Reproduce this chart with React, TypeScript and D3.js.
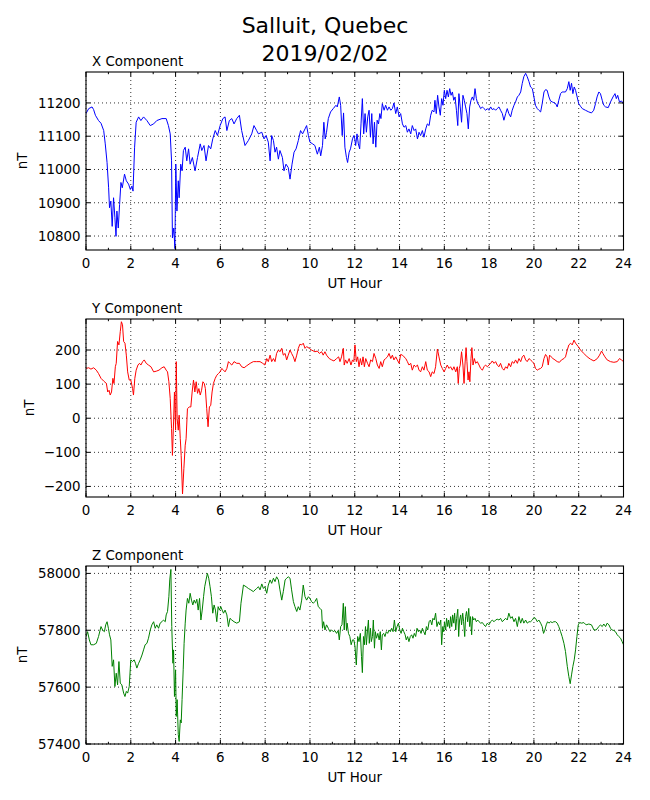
import React from "react";
import * as d3 from "d3";

// ---- Data (hour, nT) ----
const xComponent: [number, number][] = [
  [0, 11168], [0.12, 11183], [0.27, 11188], [0.34, 11180], [0.42, 11163], [0.56, 11147], [0.67, 11139],
  [0.79, 11117], [0.86, 11077], [0.94, 11021], [1.01, 10945], [1.05, 10885], [1.11, 10905], [1.17, 10829],
  [1.23, 10915], [1.29, 10855], [1.34, 10799], [1.38, 10875], [1.44, 10824], [1.5, 10895], [1.56, 10961],
  [1.62, 10945], [1.72, 10986], [1.8, 10966], [1.9, 10956], [1.98, 10940], [2.05, 10950], [2.1, 10935],
  [2.17, 11067], [2.24, 11142], [2.35, 11158], [2.45, 11147], [2.57, 11158], [2.72, 11147], [2.87, 11132],
  [3.02, 11137], [3.16, 11147], [3.39, 11153], [3.58, 11153], [3.68, 11132], [3.76, 11107], [3.82, 11026],
  [3.86, 10794], [3.92, 10824], [3.97, 10762], [4.01, 11016], [4.06, 10875], [4.12, 10966], [4.16, 10915],
  [4.23, 11016], [4.29, 10996], [4.35, 11057], [4.43, 11067], [4.5, 11026], [4.58, 11062], [4.65, 11016],
  [4.75, 11036], [4.87, 10996], [4.98, 11036], [5.1, 11077], [5.17, 11057], [5.27, 11072], [5.36, 11026],
  [5.47, 11072], [5.57, 11062], [5.66, 11092], [5.77, 11117], [5.87, 11102], [5.99, 11132], [6.11, 11153],
  [6.21, 11158], [6.29, 11117], [6.4, 11147], [6.51, 11153], [6.61, 11137], [6.73, 11153], [6.85, 11163],
  [6.95, 11117], [7.1, 11072], [7.25, 11087], [7.4, 11107], [7.5, 11132], [7.62, 11117], [7.7, 11107],
  [7.85, 11112], [7.95, 11092], [8.04, 11102], [8.14, 11082], [8.22, 11026], [8.29, 11102], [8.37, 11087],
  [8.44, 11052], [8.51, 11067], [8.59, 11031], [8.66, 11057], [8.77, 11036], [8.84, 10996], [8.93, 11016],
  [9.03, 11006], [9.11, 10971], [9.2, 11016], [9.29, 11052], [9.38, 11062], [9.48, 11087], [9.58, 11117],
  [9.67, 11107], [9.78, 11122], [9.85, 11132], [9.93, 11102], [10.0, 11082], [10.12, 11077], [10.22, 11072],
  [10.33, 11046], [10.42, 11067], [10.48, 11041], [10.56, 11072], [10.62, 11142], [10.68, 11092], [10.74, 11112],
  [10.82, 11153], [10.92, 11173], [11.04, 11183], [11.16, 11193], [11.22, 11188], [11.31, 11218], [11.37, 11193],
  [11.44, 11102], [11.5, 11170], [11.56, 11067], [11.63, 11036], [11.68, 11021], [11.75, 11052], [11.81, 11062],
  [11.9, 11092], [11.96, 11102], [12.0, 11092],
  [12.04, 11072], [12.1, 11107], [12.16, 11077], [12.22, 11062], [12.28, 11137], [12.34, 11213], [12.4, 11107],
  [12.46, 11168], [12.52, 11112], [12.58, 11158], [12.64, 11178], [12.7, 11097], [12.76, 11168], [12.82, 11077],
  [12.88, 11142], [12.94, 11067], [13.0, 11148], [13.06, 11137], [13.12, 11168], [13.17, 11153], [13.23, 11198],
  [13.31, 11178], [13.38, 11193], [13.46, 11178], [13.53, 11188], [13.61, 11178], [13.68, 11183], [13.75, 11200],
  [13.83, 11168], [13.9, 11188], [13.98, 11158], [14.05, 11168], [14.13, 11137], [14.2, 11127], [14.28, 11132],
  [14.35, 11112], [14.42, 11122], [14.5, 11107], [14.57, 11132], [14.65, 11117], [14.72, 11122], [14.8, 11092],
  [14.87, 11112], [14.94, 11102], [15.02, 11117], [15.09, 11097], [15.17, 11122], [15.24, 11137], [15.32, 11132],
  [15.39, 11163], [15.46, 11178], [15.54, 11173], [15.58, 11208], [15.64, 11168], [15.7, 11223], [15.76, 11188],
  [15.82, 11163], [15.88, 11213], [15.94, 11193], [16.0, 11238], [16.06, 11213], [16.12, 11238], [16.18, 11218],
  [16.24, 11243], [16.3, 11223], [16.36, 11233], [16.42, 11208], [16.48, 11218], [16.54, 11178], [16.6, 11132],
  [16.65, 11228], [16.71, 11188], [16.77, 11142], [16.83, 11223], [16.89, 11208], [16.95, 11188], [17.01, 11168],
  [17.07, 11122], [17.13, 11188], [17.19, 11208], [17.25, 11218], [17.31, 11208], [17.37, 11243], [17.43, 11213],
  [17.49, 11198], [17.55, 11193], [17.62, 11183], [17.7, 11188], [17.77, 11183], [17.85, 11178], [17.92, 11183],
  [17.99, 11178], [18.07, 11188], [18.14, 11180], [18.22, 11183], [18.29, 11178], [18.36, 11183], [18.44, 11188],
  [18.51, 11178], [18.59, 11168], [18.66, 11148], [18.74, 11168], [18.81, 11183], [18.88, 11168], [18.96, 11158],
  [19.03, 11178], [19.11, 11193], [19.18, 11203], [19.26, 11218], [19.33, 11223], [19.41, 11233], [19.48, 11259],
  [19.55, 11279], [19.63, 11289], [19.7, 11279], [19.78, 11264], [19.85, 11248], [19.93, 11243], [20.0, 11218],
  [20.07, 11193], [20.15, 11183], [20.22, 11178], [20.3, 11173], [20.37, 11198], [20.45, 11233], [20.52, 11240],
  [20.59, 11238], [20.67, 11218], [20.74, 11206], [20.82, 11203], [20.89, 11201], [20.97, 11198], [21.04, 11188],
  [21.11, 11208], [21.19, 11228], [21.26, 11233], [21.34, 11233], [21.41, 11233], [21.49, 11243], [21.56, 11264],
  [21.62, 11238], [21.68, 11259], [21.74, 11228], [21.8, 11248], [21.86, 11238], [21.93, 11218], [22.0, 11198],
  [22.08, 11190], [22.16, 11183], [22.3, 11178], [22.45, 11173], [22.57, 11170], [22.67, 11178], [22.75, 11198],
  [22.82, 11218], [22.9, 11233], [22.97, 11228], [23.05, 11208], [23.12, 11193], [23.2, 11188], [23.32, 11186],
  [23.42, 11203], [23.53, 11218], [23.62, 11228], [23.68, 11213], [23.74, 11223], [23.82, 11203], [23.91, 11206],
  [24.0, 11198],
];

const yComponent: [number, number][] = [
  [0, 146], [0.12, 148], [0.22, 144], [0.34, 148], [0.46, 141], [0.56, 131], [0.67, 117], [0.79, 109],
  [0.91, 102], [0.97, 77], [1.03, 82], [1.08, 68], [1.14, 77], [1.2, 117], [1.25, 102], [1.31, 151],
  [1.35, 161], [1.41, 225], [1.47, 215], [1.53, 254], [1.58, 283], [1.63, 274], [1.68, 225], [1.74, 220],
  [1.8, 185], [1.86, 136], [1.93, 112], [2.0, 112], [2.08, 87], [2.12, 68], [2.18, 117], [2.24, 141],
  [2.32, 156], [2.39, 161], [2.45, 156], [2.53, 166], [2.6, 171], [2.69, 161], [2.79, 156], [2.9, 151],
  [3.02, 136], [3.14, 138], [3.26, 141], [3.39, 148], [3.49, 151], [3.58, 141], [3.64, 136], [3.7, 107],
  [3.76, 58], [3.82, -30], [3.86, -109], [3.91, -11], [3.95, 77], [4.0, -35], [4.03, 166], [4.07, -1],
  [4.12, -35], [4.16, 9], [4.21, -60], [4.25, -109], [4.31, -222], [4.37, -148], [4.43, -79], [4.47, -60],
  [4.53, 28], [4.61, 33], [4.68, 33], [4.74, 77], [4.8, 112], [4.86, 77], [4.92, 107], [4.98, 73],
  [5.04, 87], [5.1, 68], [5.16, 82], [5.22, 107], [5.28, 102], [5.33, 87], [5.39, 28], [5.45, -25],
  [5.51, 33], [5.57, 38], [5.63, 77], [5.69, 102], [5.77, 117], [5.84, 126], [5.91, 131], [5.99, 136],
  [6.06, 146], [6.14, 141], [6.21, 136], [6.29, 146], [6.36, 166], [6.43, 161], [6.51, 156], [6.61, 166],
  [6.73, 161], [6.85, 161], [6.95, 151], [7.06, 148], [7.18, 154], [7.33, 161], [7.47, 166], [7.62, 166],
  [7.77, 166], [7.89, 161], [7.99, 156], [8.07, 175], [8.14, 166], [8.22, 185], [8.29, 166], [8.37, 175],
  [8.44, 166], [8.51, 190], [8.59, 200], [8.66, 195], [8.74, 205], [8.81, 185], [8.89, 190], [8.96, 171],
  [9.03, 185], [9.11, 200], [9.18, 190], [9.26, 180], [9.33, 166], [9.41, 185], [9.48, 205], [9.55, 217],
  [9.63, 215], [9.7, 220], [9.78, 205], [9.85, 210], [9.97, 205], [10.07, 200], [10.22, 195], [10.33, 197],
  [10.42, 190], [10.52, 195], [10.59, 185], [10.67, 195], [10.74, 185], [10.86, 175], [10.97, 171], [11.07, 168],
  [11.19, 175], [11.28, 180], [11.34, 166], [11.41, 180], [11.49, 205], [11.53, 156], [11.59, 171], [11.66, 161],
  [11.75, 175], [11.83, 156], [11.9, 171], [11.96, 166],
  [12.01, 215], [12.07, 166], [12.13, 180], [12.19, 151], [12.25, 175], [12.31, 156], [12.37, 180], [12.43, 151],
  [12.49, 175], [12.57, 161], [12.64, 151], [12.71, 171], [12.79, 166], [12.86, 190], [12.94, 175], [13.01, 156],
  [13.09, 146], [13.16, 166], [13.23, 151], [13.31, 171], [13.38, 175], [13.46, 180], [13.53, 190], [13.61, 175],
  [13.68, 185], [13.75, 171], [13.83, 180], [13.9, 171], [13.98, 161], [14.05, 187], [14.13, 185], [14.2, 180],
  [14.28, 175], [14.35, 166], [14.42, 156], [14.5, 161], [14.57, 141], [14.65, 156], [14.72, 151], [14.8, 156],
  [14.87, 141], [14.94, 136], [15.02, 151], [15.09, 141], [15.17, 166], [15.24, 141], [15.32, 136], [15.39, 122],
  [15.46, 136], [15.54, 131], [15.61, 151], [15.69, 203], [15.76, 180], [15.84, 156], [15.91, 146], [15.99, 136],
  [16.06, 146], [16.13, 156], [16.21, 146], [16.28, 151], [16.36, 141], [16.43, 151], [16.51, 136], [16.58, 151],
  [16.62, 102], [16.67, 146], [16.71, 156], [16.77, 195], [16.83, 156], [16.88, 102], [16.92, 156], [16.97, 207],
  [17.01, 166], [17.06, 112], [17.1, 136], [17.14, 107], [17.19, 175], [17.23, 207], [17.28, 156], [17.34, 175],
  [17.4, 161], [17.47, 166], [17.55, 156], [17.62, 146], [17.7, 141], [17.77, 151], [17.84, 156], [17.92, 151],
  [17.99, 156], [18.07, 161], [18.14, 168], [18.22, 161], [18.29, 166], [18.36, 156], [18.44, 151], [18.51, 161],
  [18.59, 146], [18.66, 141], [18.74, 151], [18.81, 146], [18.88, 161], [18.96, 151], [19.03, 166], [19.11, 161],
  [19.18, 171], [19.26, 161], [19.33, 175], [19.41, 166], [19.48, 180], [19.55, 185], [19.63, 171], [19.7, 166],
  [19.78, 175], [19.85, 171], [19.93, 166], [20.0, 161], [20.07, 146], [20.15, 141], [20.22, 144], [20.3, 146],
  [20.37, 151], [20.45, 175], [20.52, 187], [20.59, 180], [20.64, 156], [20.7, 185], [20.77, 180], [20.85, 175],
  [20.94, 171], [21.04, 166], [21.14, 164], [21.23, 171], [21.34, 175], [21.41, 180], [21.49, 200], [21.56, 215],
  [21.64, 220], [21.71, 215], [21.79, 229], [21.86, 220], [21.98, 210], [22.08, 200], [22.23, 190], [22.38, 180],
  [22.53, 173], [22.68, 168], [22.83, 175], [22.93, 185], [23.02, 197], [23.08, 190], [23.17, 180], [23.27, 171],
  [23.42, 166], [23.57, 164], [23.72, 166], [23.82, 175], [23.91, 171], [24.0, 166],
];

const zComponent: [number, number][] = [
  [0, 57778], [0.07, 57795], [0.15, 57766], [0.22, 57749], [0.34, 57749], [0.46, 57754], [0.56, 57778],
  [0.67, 57813], [0.74, 57801], [0.82, 57795], [0.88, 57819], [0.94, 57830], [1.0, 57807], [1.05, 57784],
  [1.11, 57766], [1.17, 57673], [1.23, 57696], [1.29, 57602], [1.35, 57649], [1.41, 57608], [1.47, 57690],
  [1.53, 57614], [1.6, 57608], [1.68, 57579], [1.74, 57567], [1.8, 57585], [1.86, 57579], [1.93, 57602],
  [2.0, 57696], [2.08, 57690], [2.15, 57696], [2.21, 57684], [2.27, 57667], [2.35, 57684], [2.42, 57696],
  [2.5, 57713], [2.57, 57731], [2.64, 57749], [2.72, 57754], [2.79, 57772], [2.87, 57801], [2.94, 57819],
  [3.02, 57830], [3.09, 57807], [3.16, 57819], [3.24, 57807], [3.31, 57825], [3.39, 57830], [3.46, 57836],
  [3.54, 57830], [3.58, 57854], [3.64, 57866], [3.7, 57918], [3.74, 57977], [3.79, 58014], [3.83, 57813],
  [3.88, 57684], [3.91, 57731], [3.95, 57567], [4.0, 57661], [4.03, 57497], [4.07, 57556], [4.12, 57433],
  [4.16, 57409], [4.21, 57485], [4.25, 57474], [4.29, 57556], [4.34, 57661], [4.38, 57754], [4.43, 57825],
  [4.47, 57871], [4.53, 57912], [4.59, 57895], [4.65, 57930], [4.71, 57906], [4.77, 57889], [4.83, 57906],
  [4.89, 57895], [4.95, 57909], [5.01, 57871], [5.07, 57912], [5.13, 57836], [5.19, 57871], [5.25, 57918],
  [5.3, 57953], [5.36, 57977], [5.42, 58000], [5.48, 57983], [5.54, 57953], [5.6, 57918], [5.66, 57860],
  [5.72, 57889], [5.78, 57871], [5.84, 57830], [5.9, 57883], [5.96, 57871], [6.02, 57883], [6.08, 57871],
  [6.14, 57860], [6.21, 57871], [6.29, 57854], [6.36, 57813], [6.43, 57842], [6.51, 57836], [6.61, 57830],
  [6.73, 57825], [6.85, 57830], [6.92, 57895], [7.03, 57959], [7.15, 57953], [7.25, 57947], [7.36, 57942],
  [7.47, 57936], [7.55, 57942], [7.62, 57947], [7.7, 57953], [7.77, 57942], [7.85, 57963], [7.92, 57947],
  [7.99, 57953], [8.07, 57930], [8.14, 57959], [8.22, 57977], [8.29, 57965], [8.37, 57983], [8.44, 57971],
  [8.51, 57988], [8.59, 57977], [8.66, 57942], [8.74, 57906], [8.81, 57936], [8.89, 57977], [8.96, 57983],
  [9.03, 57988], [9.11, 57983], [9.18, 57942], [9.26, 57901], [9.33, 57883], [9.41, 57866], [9.48, 57883],
  [9.55, 57871], [9.63, 57906], [9.7, 57959], [9.78, 57918], [9.85, 57906], [9.93, 57918], [10.0, 57912],
  [10.07, 57901], [10.15, 57895], [10.22, 57901], [10.3, 57912], [10.37, 57883], [10.45, 57877], [10.52, 57871],
  [10.56, 57807], [10.61, 57830], [10.67, 57801], [10.74, 57819], [10.82, 57807], [10.89, 57795], [10.97, 57801],
  [11.04, 57795], [11.11, 57799], [11.19, 57789], [11.26, 57799], [11.31, 57766], [11.37, 57813], [11.43, 57819],
  [11.49, 57895], [11.53, 57801], [11.58, 57883], [11.63, 57801], [11.66, 57825], [11.72, 57789], [11.78, 57778],
  [11.84, 57749], [11.9, 57766],
  [11.96, 57766], [12.01, 57743], [12.07, 57678], [12.13, 57778], [12.19, 57760], [12.25, 57789], [12.3, 57708],
  [12.34, 57651], [12.39, 57778], [12.43, 57749], [12.48, 57813], [12.52, 57749], [12.57, 57801], [12.61, 57836],
  [12.65, 57754], [12.7, 57807], [12.74, 57760], [12.79, 57778], [12.83, 57836], [12.88, 57737], [12.92, 57795],
  [12.97, 57772], [13.03, 57789], [13.09, 57766], [13.14, 57795], [13.19, 57731], [13.23, 57784], [13.29, 57789],
  [13.35, 57778], [13.41, 57795], [13.47, 57789], [13.53, 57801], [13.59, 57795], [13.65, 57807], [13.71, 57795],
  [13.77, 57836], [13.83, 57795], [13.89, 57813], [13.95, 57825], [14.01, 57801], [14.07, 57789], [14.13, 57807],
  [14.19, 57795], [14.25, 57784], [14.3, 57766], [14.36, 57778], [14.42, 57760], [14.48, 57778], [14.54, 57784],
  [14.6, 57772], [14.66, 57789], [14.72, 57778], [14.78, 57807], [14.84, 57795], [14.9, 57801], [14.96, 57789],
  [15.02, 57807], [15.08, 57795], [15.14, 57784], [15.2, 57813], [15.26, 57801], [15.32, 57830], [15.38, 57836],
  [15.44, 57819], [15.49, 57842], [15.55, 57836], [15.61, 57860], [15.67, 57813], [15.73, 57830], [15.79, 57819],
  [15.84, 57836], [15.88, 57749], [15.93, 57813], [15.97, 57795], [16.01, 57830], [16.06, 57801], [16.1, 57842],
  [16.15, 57813], [16.19, 57836], [16.24, 57807], [16.28, 57848], [16.33, 57813], [16.37, 57854], [16.42, 57825],
  [16.46, 57860], [16.51, 57801], [16.55, 57842], [16.6, 57874], [16.64, 57778], [16.68, 57836], [16.73, 57854],
  [16.77, 57819], [16.82, 57860], [16.86, 57830], [16.91, 57778], [16.95, 57848], [16.99, 57866], [17.04, 57830],
  [17.09, 57877], [17.13, 57813], [17.17, 57848], [17.22, 57784], [17.26, 57848], [17.31, 57836], [17.37, 57842],
  [17.43, 57830], [17.49, 57836], [17.55, 57830], [17.62, 57825], [17.7, 57827], [17.77, 57819], [17.84, 57813],
  [17.92, 57825], [17.99, 57819], [18.07, 57830], [18.14, 57836], [18.22, 57830], [18.29, 57836], [18.36, 57839],
  [18.44, 57836], [18.51, 57842], [18.59, 57830], [18.66, 57836], [18.74, 57842], [18.81, 57836], [18.88, 57860],
  [18.96, 57842], [19.03, 57848], [19.11, 57830], [19.18, 57842], [19.26, 57813], [19.33, 57848], [19.41, 57825],
  [19.48, 57842], [19.55, 57825], [19.63, 57836], [19.7, 57825], [19.78, 57830], [19.85, 57830], [19.93, 57836],
  [20.0, 57845], [20.07, 57842], [20.15, 57830], [20.22, 57836], [20.3, 57825], [20.37, 57813], [20.43, 57789],
  [20.49, 57801], [20.55, 57819], [20.61, 57830], [20.67, 57825], [20.74, 57830], [20.82, 57827], [20.89, 57830],
  [20.97, 57830], [21.04, 57825], [21.11, 57813], [21.19, 57795], [21.26, 57778], [21.34, 57754], [21.41, 57725],
  [21.49, 57673], [21.56, 57637], [21.62, 57612], [21.68, 57643], [21.74, 57673], [21.8, 57696], [21.86, 57731],
  [21.92, 57778], [21.98, 57819], [22.04, 57827], [22.13, 57825], [22.23, 57827], [22.33, 57819], [22.45, 57822],
  [22.57, 57819], [22.68, 57801], [22.78, 57801], [22.9, 57813], [22.97, 57819], [23.05, 57813], [23.12, 57822],
  [23.2, 57813], [23.27, 57825], [23.35, 57819], [23.42, 57807], [23.49, 57801], [23.57, 57799], [23.64, 57795],
  [23.72, 57784], [23.79, 57778], [23.87, 57772], [23.94, 57760], [24.0, 57749],
];

const hourTicks = [0, 2, 4, 6, 8, 10, 12, 14, 16, 18, 20, 22, 24];
const hourMinorTicks = [1, 3, 5, 7, 9, 11, 13, 15, 17, 19, 21, 23];
const xTicks = [10800, 10900, 11000, 11100, 11200];
const yTicks = [-200, -100, 0, 100, 200];
const zTicks = [57400, 57600, 57800, 58000];

const titleLines = ["Salluit, Quebec", "2019/02/02"];

type Panel = {
  title: string;
  data: [number, number][];
  domain: [number, number];
  ticks: number[];
  color: string;
  top: number;
  labelX: number;
};

const panels: Panel[] = [
  { title: "X Component", data: xComponent, domain: [10758, 11293], ticks: xTicks, color: "#0000ff", top: 72, labelX: 22 },
  { title: "Y Component", data: yComponent, domain: [-231, 291], ticks: yTicks, color: "#ff0000", top: 319, labelX: 29 },
  { title: "Z Component", data: zComponent, domain: [57400, 58026], ticks: zTicks, color: "#008000", top: 566, labelX: 22 },
];

const LEFT = 86;
const RIGHT = 623.5;
const H = 178;
const FONT = "'DejaVu Sans', sans-serif";
const FS = 13.4;

const fmt = (v: number) => (v < 0 ? "\u2212" + Math.abs(v) : String(v));

function PanelView({ p }: { p: Panel }) {
  const x = d3.scaleLinear().domain([0, 24]).range([LEFT, RIGHT]);
  const y = d3.scaleLinear().domain(p.domain).range([p.top + H, p.top]);
  const line = d3
    .line<[number, number]>()
    .x((d) => x(d[0]))
    .y((d) => y(d[1]));
  const bottom = p.top + H;
  const clipId = "clip-" + p.title.charAt(0);
  return (
    <g>
      <defs>
        <clipPath id={clipId}>
          <rect x={LEFT} y={p.top} width={RIGHT - LEFT} height={H} />
        </clipPath>
      </defs>
      {/* grid */}
      {hourTicks.map((t) => (
        <line key={"gx" + t} x1={x(t)} x2={x(t)} y1={p.top} y2={bottom} stroke="#000" strokeWidth={0.8} strokeDasharray="1,3" />
      ))}
      {p.ticks.map((t) => (
        <line key={"gy" + t} x1={LEFT} x2={RIGHT} y1={y(t)} y2={y(t)} stroke="#000" strokeWidth={0.8} strokeDasharray="1,3" />
      ))}
      {/* data */}
      <path d={line(p.data) || ""} fill="none" stroke={p.color} strokeWidth={1} strokeLinejoin="round" clipPath={`url(#${clipId})`} />
      {/* ticks */}
      {hourTicks.map((t) => (
        <g key={"tx" + t}>
          <line x1={x(t)} x2={x(t)} y1={bottom} y2={bottom - 4.4} stroke="#000" strokeWidth={1} />
          <line x1={x(t)} x2={x(t)} y1={p.top} y2={p.top + 4.4} stroke="#000" strokeWidth={1} />
          <text x={x(t)} y={bottom + 17.5} textAnchor="middle" fontSize={FS} fontFamily={FONT}>
            {t}
          </text>
        </g>
      ))}
      {hourMinorTicks.map((t) => (
        <g key={"mx" + t}>
          <line x1={x(t)} x2={x(t)} y1={bottom} y2={bottom - 2.2} stroke="#000" strokeWidth={1} />
          <line x1={x(t)} x2={x(t)} y1={p.top} y2={p.top + 2.2} stroke="#000" strokeWidth={1} />
        </g>
      ))}
      {p.ticks.map((t) => (
        <g key={"ty" + t}>
          <line x1={LEFT} x2={LEFT + 4.4} y1={y(t)} y2={y(t)} stroke="#000" strokeWidth={1} />
          <line x1={RIGHT} x2={RIGHT - 4.4} y1={y(t)} y2={y(t)} stroke="#000" strokeWidth={1} />
          <text x={LEFT - 5.5} y={y(t) + 5} textAnchor="end" fontSize={FS} fontFamily={FONT}>
            {fmt(t)}
          </text>
        </g>
      ))}
      {/* frame */}
      <rect x={LEFT} y={p.top} width={RIGHT - LEFT} height={H} fill="none" stroke="#000" strokeWidth={1.1} />
      {/* labels */}
      <text x={92} y={p.top - 6.5} fontSize={FS} fontFamily={FONT}>
        {p.title}
      </text>
      <text x={(LEFT + RIGHT) / 2} y={bottom + 37.7} textAnchor="middle" fontSize={FS} fontFamily={FONT}>
        UT Hour
      </text>
      <text
        transform={`translate(${p.labelX + 4.5},${p.top + H / 2}) rotate(-90)`}
        textAnchor="middle"
        fontSize={FS}
        fontFamily={FONT}
      >
        nT
      </text>
    </g>
  );
}

export default function App() {
  return (
    <svg
      width={650}
      height={800}
      style={{ position: "absolute", left: 0, top: 0, background: "#fff" }}
    >
      <rect width={650} height={800} fill="#fff" />
      <text x={325} y={33} textAnchor="middle" fontSize={22} fontFamily={FONT}>
        {titleLines[0]}
      </text>
      <text x={325} y={61} textAnchor="middle" fontSize={22} fontFamily={FONT}>
        {titleLines[1]}
      </text>
      {panels.map((p) => (
        <PanelView key={p.title} p={p} />
      ))}
    </svg>
  );
}
